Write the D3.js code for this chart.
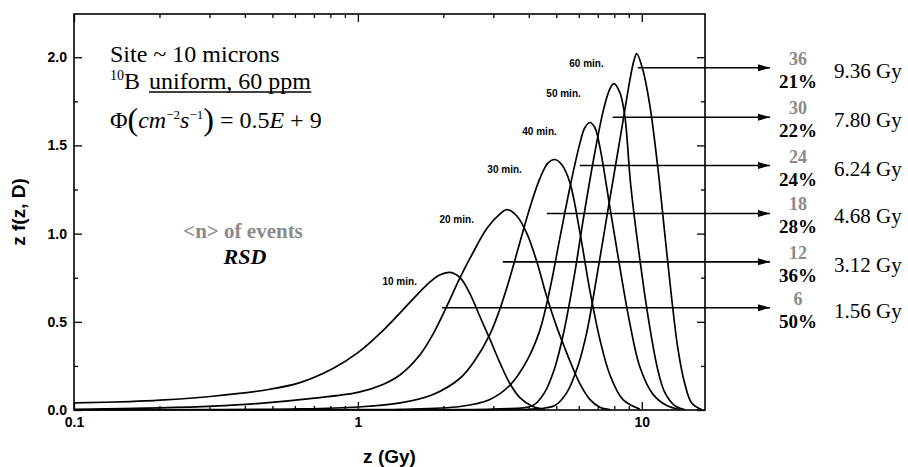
<!DOCTYPE html>
<html>
<head>
<meta charset="utf-8">
<script src="https://cdn.jsdelivr.net/npm/d3@7"></script>
<style>
  body { margin: 0; background: #fff; }
  svg { display: block; }
  .tick text { font-family: "Liberation Sans", Arial, sans-serif; font-weight: bold; font-size: 14px; fill: #000; }
  .serif { font-family: "Liberation Serif", "Times New Roman", serif; }
</style>
</head>
<body>
<div id="chart"></div>
<script>
// z (Gy) / z f(z,D) pairs, one array per irradiation time
const curve10 = [[0.1,0.04],[0.157,0.048],[0.201,0.056],[0.308,0.078],[0.479,0.115],[0.625,0.155],[0.817,0.235],[1.0,0.325],[1.225,0.45],[1.525,0.61],[1.75,0.71],[1.94,0.765],[2.11,0.78],[2.29,0.75],[2.48,0.66],[2.69,0.53],[2.92,0.40],[3.16,0.27],[3.43,0.15],[3.72,0.07],[4.13,0.02],[4.55,0.003]];
const curve20 = [[0.1,0.003],[0.201,0.012],[0.308,0.022],[0.452,0.038],[0.678,0.065],[1.0,0.10],[1.225,0.145],[1.41,0.20],[1.65,0.31],[1.84,0.43],[2.06,0.59],[2.29,0.75],[2.54,0.89],[2.85,1.03],[3.16,1.11],[3.35,1.136],[3.63,1.10],[3.94,1.00],[4.27,0.84],[4.63,0.64],[5.02,0.47],[5.36,0.35],[5.71,0.24],[6.05,0.15],[6.56,0.06],[7.12,0.015],[7.72,0.002]];
const curve30 = [[0.1,0.001],[0.278,0.002],[0.625,0.006],[1.0,0.017],[1.41,0.04],[1.84,0.088],[2.29,0.18],[2.58,0.28],[2.92,0.43],[3.16,0.57],[3.43,0.75],[3.72,0.95],[4.04,1.15],[4.37,1.31],[4.67,1.40],[4.94,1.42],[5.23,1.39],[5.58,1.29],[6.05,1.01],[6.56,0.68],[7.12,0.40],[7.72,0.20],[8.57,0.06],[9.84,0.005]];
const curve40 = [[0.3,0.001],[1.0,0.002],[1.41,0.004],[2.29,0.02],[2.92,0.06],[3.43,0.14],[3.94,0.28],[4.37,0.45],[4.74,0.68],[5.14,0.97],[5.58,1.26],[6.05,1.51],[6.30,1.60],[6.56,1.63],[6.84,1.60],[7.12,1.49],[7.72,1.15],[8.37,0.81],[9.08,0.49],[9.84,0.245],[10.94,0.09],[12.25,0.025],[13.61,0.003]];
const curve50 = [[1.0,0.001],[2.29,0.002],[3.16,0.006],[4.13,0.025],[4.55,0.10],[4.94,0.24],[5.31,0.44],[5.77,0.75],[6.25,1.10],[6.78,1.43],[7.35,1.71],[7.72,1.82],[7.97,1.85],[8.37,1.80],[8.71,1.67],[9.15,1.27],[9.91,0.82],[10.67,0.47],[11.38,0.23],[12.05,0.10],[13.07,0.025],[14.17,0.003]];
const curve60 = [[2.0,0.001],[3.16,0.002],[4.37,0.008],[4.94,0.025],[5.45,0.10],[5.96,0.25],[6.40,0.44],[6.95,0.76],[7.54,1.10],[8.17,1.43],[8.57,1.63],[9.08,1.87],[9.38,1.98],[9.60,2.02],[10.08,1.93],[10.67,1.73],[11.38,1.38],[12.05,1.00],[12.75,0.63],[13.40,0.35],[14.17,0.15],[14.99,0.04],[16.25,0.003]];

const curves = [curve10, curve20, curve30, curve40, curve50, curve60];
const curveLabels = ["10 min.", "20 min.", "30 min.", "40 min.", "50 min.", "60 min."];

// arrows: start dose (Gy) and height, with the right-hand annotations
const arrowStart = [1.98, 3.24, 4.63, 6.05, 7.90, 9.68];
const arrowLevel = [0.58, 0.84, 1.114, 1.386, 1.66, 1.94];
const nEvents = ["6", "12", "18", "24", "30", "36"];
const rsd = ["50%", "36%", "28%", "24%", "22%", "21%"];
const meanDose = ["1.56 Gy", "3.12 Gy", "4.68 Gy", "6.24 Gy", "7.80 Gy", "9.36 Gy"];

const xMajor = [0.1, 1, 10];
const xMinor = [0.2, 0.3, 0.4, 0.5, 0.6, 0.7, 0.8, 0.9, 2, 3, 4, 5, 6, 7, 8, 9];
const yMajor = [0, 0.5, 1.0, 1.5, 2.0];
const yMinor = [0.25, 0.75, 1.25, 1.75];

const W = 908, H = 467;
const margin = { top: 14, right: 203, bottom: 57, left: 74 };

const svg = d3.select('#chart').append('svg')
    .attr('width', W).attr('height', H);

const x = d3.scaleLog().domain([0.1, 16.7]).range([margin.left, W - margin.right]);
const y = d3.scaleLinear().domain([0, 2.245]).range([H - margin.bottom, margin.top]);

const [x0, x1] = x.range();
const [y0, y1] = y.range();

// arrow head
svg.append('defs').append('marker')
    .attr('id', 'head')
    .attr('viewBox', '0 0 12 8')
    .attr('refX', 12).attr('refY', 4)
    .attr('markerWidth', 12).attr('markerHeight', 8)
    .attr('markerUnits', 'userSpaceOnUse')
    .attr('orient', 'auto')
    .append('path').attr('d', 'M0,0.5L12,4L0,7.5Z').attr('fill', '#000');

// axes, ticks pointing inward on all four sides
const fmtX = d => d === 0.1 ? '0.1' : d3.format('d')(d);
const addAxis = (axis, tr) => {
    const g = svg.append('g').attr('transform', tr).call(axis);
    g.select('.domain').remove();
    g.selectAll('.tick line').attr('stroke', '#000').attr('stroke-width', 1.3);
    return g;
};
addAxis(d3.axisBottom(x).tickValues(xMajor).tickFormat(fmtX).tickSize(-8).tickPadding(7), `translate(0,${y0})`);
addAxis(d3.axisBottom(x).tickValues(xMinor).tickFormat('').tickSize(-4), `translate(0,${y0})`);
addAxis(d3.axisTop(x).tickValues(xMajor).tickFormat('').tickSize(-8), `translate(0,${y1})`);
addAxis(d3.axisTop(x).tickValues(xMinor).tickFormat('').tickSize(-4), `translate(0,${y1})`);
addAxis(d3.axisLeft(y).tickValues(yMajor).tickFormat(d3.format('.1f')).tickSize(-8).tickPadding(7), `translate(${x0},0)`);
addAxis(d3.axisLeft(y).tickValues(yMinor).tickFormat('').tickSize(-4), `translate(${x0},0)`);
addAxis(d3.axisRight(y).tickValues(yMajor).tickFormat('').tickSize(-8), `translate(${x1},0)`);
addAxis(d3.axisRight(y).tickValues(yMinor).tickFormat('').tickSize(-4), `translate(${x1},0)`);

svg.append('rect')
    .attr('x', x0).attr('y', y1)
    .attr('width', x1 - x0).attr('height', y0 - y1)
    .attr('fill', 'none').attr('stroke', '#000').attr('stroke-width', 1.6);

// axis titles
svg.append('text')
    .attr('x', (x0 + x1) / 2).attr('y', H - 4)
    .attr('text-anchor', 'middle')
    .style('font-family', '"Liberation Sans", Arial, sans-serif')
    .style('font-weight', 'bold').style('font-size', '19px')
    .text('z (Gy)');

svg.append('text')
    .attr('transform', `translate(25,${(y0 + y1) / 2}) rotate(-90)`)
    .attr('text-anchor', 'middle')
    .style('font-family', '"Liberation Sans", Arial, sans-serif')
    .style('font-weight', 'bold').style('font-size', '19px')
    .text('z f(z, D)');

// curves
const line = d3.line()
    .x(d => x(d[0]))
    .y(d => y(d[1]))
    .curve(d3.curveCatmullRom.alpha(0.5));

const plot = svg.append('g');
plot.selectAll('path.dist')
    .data(curves)
    .join('path')
    .attr('class', 'dist')
    .attr('d', line)
    .attr('fill', 'none')
    .attr('stroke', '#000')
    .attr('stroke-width', 1.7);

// curve labels placed to the left of each peak
plot.selectAll('text.clabel')
    .data(curves)
    .join('text')
    .attr('class', 'clabel')
    .attr('x', d => x(d[d3.greatestIndex(d, p => p[1])][0]) - 33)
    .attr('y', d => y(d3.max(d, p => p[1])) + 13)
    .attr('text-anchor', 'end')
    .style('font-family', '"Liberation Sans", Arial, sans-serif')
    .style('font-weight', 'bold').style('font-size', '10px')
    .text((d, i) => curveLabels[i]);

// arrows out to the annotations
const arrowEnd = x1 + 65;
const labelX = x1 + 93;
svg.selectAll('line.arrow')
    .data(arrowStart)
    .join('line')
    .attr('class', 'arrow')
    .attr('x1', d => x(d)).attr('x2', arrowEnd)
    .attr('y1', (d, i) => y(arrowLevel[i])).attr('y2', (d, i) => y(arrowLevel[i]))
    .attr('stroke', '#000').attr('stroke-width', 1.6)
    .attr('marker-end', 'url(#head)');

const ann = svg.append('g').attr('class', 'serif');
arrowLevel.forEach((lv, i) => {
    const yy = y(lv);
    ann.append('text')
        .attr('x', labelX).attr('y', yy - 3)
        .attr('text-anchor', 'middle')
        .attr('fill', '#8a8a8a')
        .style('font-weight', 'bold').style('font-size', '18px')
        .text(nEvents[i]);
    ann.append('text')
        .attr('x', labelX).attr('y', yy + 20)
        .attr('text-anchor', 'middle')
        .attr('fill', '#000')
        .style('font-weight', 'bold').style('font-size', '19px')
        .text(rsd[i]);
    ann.append('text')
        .attr('x', labelX + 36).attr('y', yy + 10)
        .attr('fill', '#000')
        .style('font-size', '21px')
        .text(meanDose[i]);
});

// top-left text block
const info = svg.append('g').attr('class', 'serif').style('font-size', '24px');
info.append('text').attr('x', 110).attr('y', 62).text('Site ~ 10 microns');

const l2 = info.append('text').attr('x', 110).attr('y', 89);
l2.append('tspan').style('font-size', '14px').attr('dy', -9).text('10');
l2.append('tspan').attr('dy', 9).text('B');
const ul = info.append('text')
    .attr('x', 110 + l2.node().getComputedTextLength() + 9).attr('y', 89)
    .text('uniform, 60 ppm');
const ub = ul.node().getBBox();
info.append('line')
    .attr('x1', ub.x).attr('x2', ub.x + ub.width)
    .attr('y1', 92).attr('y2', 92)
    .attr('stroke', '#000').attr('stroke-width', 1.3);

const l3 = info.append('text').attr('x', 110).attr('y', 128);
l3.append('tspan').text('Φ');
l3.append('tspan').style('font-size', '32px').attr('dy', 2).text('(');
l3.append('tspan').style('font-style', 'italic').attr('dy', -2).text('cm');
l3.append('tspan').style('font-size', '13px').attr('dy', -9).text('−2');
l3.append('tspan').style('font-style', 'italic').attr('dy', 9).text('s');
l3.append('tspan').style('font-size', '13px').attr('dy', -9).text('−1');
l3.append('tspan').style('font-size', '32px').attr('dy', 11).text(')');
l3.append('tspan').attr('dy', -2).text(' = 0.5');
l3.append('tspan').style('font-style', 'italic').text('E');
l3.append('tspan').text(' + 9');

const leg = svg.append('g').attr('class', 'serif').style('font-weight', 'bold');
leg.append('text')
    .attr('x', 243).attr('y', 238)
    .attr('text-anchor', 'middle')
    .attr('fill', '#8a8a8a')
    .style('font-size', '21px')
    .text('<n> of events');
leg.append('text')
    .attr('x', 245).attr('y', 264)
    .attr('text-anchor', 'middle')
    .style('font-style', 'italic')
    .style('font-size', '22px')
    .text('RSD');
</script>
</body>
</html>
